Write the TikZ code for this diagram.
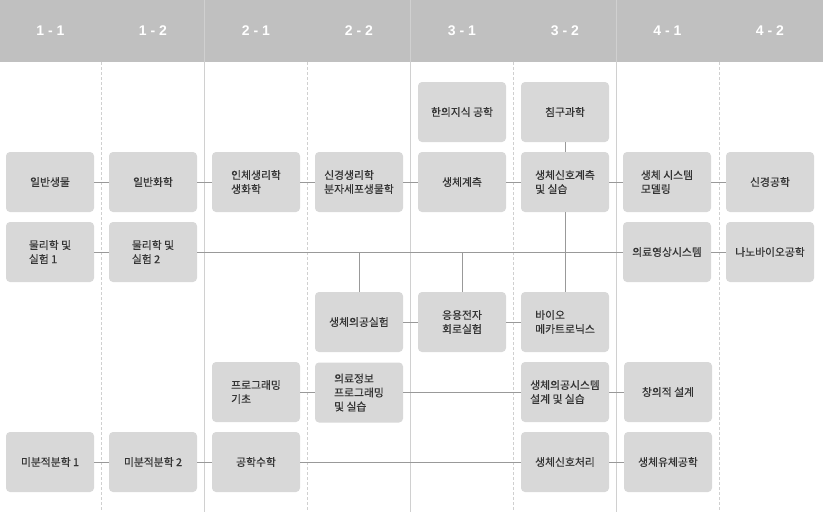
\documentclass[tikz,border=0pt]{standalone}
\usepackage{fontspec}
\newfontfamily\kr{Noto Sans CJK KR}[FakeBold=0.45]
\newfontfamily\hdrfont{Liberation Sans}
\definecolor{hdrgray}{HTML}{C0C0C0}
\definecolor{boxgray}{HTML}{D8D8D8}
\definecolor{txtgray}{HTML}{333333}
\definecolor{linegray}{HTML}{999999}
\definecolor{sepgray}{HTML}{D0D0D0}
\tikzset{
  course/.style={rectangle, rounded corners=4pt, fill=boxgray, minimum width=88pt, minimum height=60pt,
    inner sep=0pt, align=left, text=txtgray, font=\kr\fontsize{10.8}{14}\selectfont},
  hdr/.style={text=white, font=\hdrfont\bfseries\fontsize{14}{15}\selectfont},
  conn/.style={draw=linegray, line width=0.9pt},
  sepsolid/.style={draw=sepgray, line width=0.8pt},
  sepdash/.style={draw=sepgray, line width=0.8pt, dash pattern=on 3pt off 2pt},
}
\begin{document}
\begin{tikzpicture}[x=1pt,y=-1pt]
\useasboundingbox (0,0) rectangle (823,512);
\fill[white] (0,0) rectangle (823,512);
\fill[hdrgray] (0,0) rectangle (823,62);
% separators
\foreach \xx in {204.5,410,616} \draw[sepsolid] (\xx,0) -- (\xx,512);
\foreach \xx in {101.5,307.5,513,719} \draw[sepdash] (\xx,62) -- (\xx,512);
% headers
\node[hdr] (h11) at (50.5,31) {1 - 1};
\node[hdr] (h12) at (153,31) {1 - 2};
\node[hdr] (h21) at (256,31) {2 - 1};
\node[hdr] (h22) at (359,31) {2 - 2};
\node[hdr] (h31) at (462,31) {3 - 1};
\node[hdr] (h32) at (565,31) {3 - 2};
\node[hdr] (h41) at (667.5,31) {4 - 1};
\node[hdr] (h42) at (770,31) {4 - 2};
% row 0
\node[course] (kmed) at (462,112) {한의지식 공학};
\node[course] (acu) at (565,112) {침구과학};
% row 1
\node[course] (bio) at (50,182) {일반생물};
\node[course] (chem) at (153,182) {일반화학};
\node[course] (phys) at (256,182) {인체생리학\\생화학};
\node[course] (neuro) at (359,182) {신경생리학\\분자세포생물학};
\node[course] (meas) at (462,182) {생체계측};
\node[course] (sigm) at (565,182) {생체신호계측\\및 실습};
\node[course] (sysm) at (667,182) {생체 시스템\\모델링};
\node[course] (neng) at (770,182) {신경공학};
% row 2
\node[course] (ph1) at (50,252) {물리학 및\\실험 1};
\node[course] (ph2) at (153,252) {물리학 및\\실험 2};
\node[course] (img) at (667,252) {의료영상시스템};
\node[course] (nano) at (770,252) {나노바이오공학};
% row 3
\node[course] (blab) at (359,322) {생체의공실험};
\node[course] (elec) at (462,322) {응용전자\\회로실험};
\node[course] (mech) at (565,322) {바이오\\메카트로닉스};
% row 4
\node[course] (prog) at (256,392) {프로그래밍\\기초};
\node[course] (minfo) at (359,392.5) {의료정보\\프로그래밍\\및 실습};
\node[course] (sysd) at (565,392) {생체의공시스템\\설계 및 실습};
\node[course] (cre) at (668,392) {창의적 설계};
% row 5
\node[course] (cal1) at (50,462) {미분적분학 1};
\node[course] (cal2) at (153,462) {미분적분학 2};
\node[course] (emath) at (256,462) {공학수학};
\node[course] (sigp) at (565,462) {생체신호처리};
\node[course] (fluid) at (668,462) {생체유체공학};
% connectors row 1
\draw[conn] (bio.east) -- (chem.west);
\draw[conn] (chem.east) -- (phys.west);
\draw[conn] (phys.east) -- (neuro.west);
\draw[conn] (neuro.east) -- (meas.west);
\draw[conn] (meas.east) -- (sigm.west);
\draw[conn] (sigm.east) -- (sysm.west);
\draw[conn] (sysm.east) -- (neng.west);
% verticals col 3-2
\draw[conn] (acu.south) -- (sigm.north);
\draw[conn] (sigm.south) -- (mech.north);
% row 2
\draw[conn] (ph1.east) -- (ph2.west);
\draw[conn] (ph2.east) -- (img.west);
\draw[conn] (img.east) -- (nano.west);
\draw[conn] (blab.north) -- (blab.north |- ph2.east);
\draw[conn] (elec.north) -- (elec.north |- ph2.east);
% row 3
\draw[conn] (blab.east) -- (elec.west);
\draw[conn] (elec.east) -- (mech.west);
% row 4
\draw[conn] (prog.east) -- (minfo.west |- prog.east);
\draw[conn] (minfo.east |- prog.east) -- (sysd.west);
\draw[conn] (sysd.east) -- (cre.west);
% row 5
\draw[conn] (cal1.east) -- (cal2.west);
\draw[conn] (cal2.east) -- (emath.west);
\draw[conn] (emath.east) -- (sigp.west);
\draw[conn] (sigp.east) -- (fluid.west);
\end{tikzpicture}
\end{document}
